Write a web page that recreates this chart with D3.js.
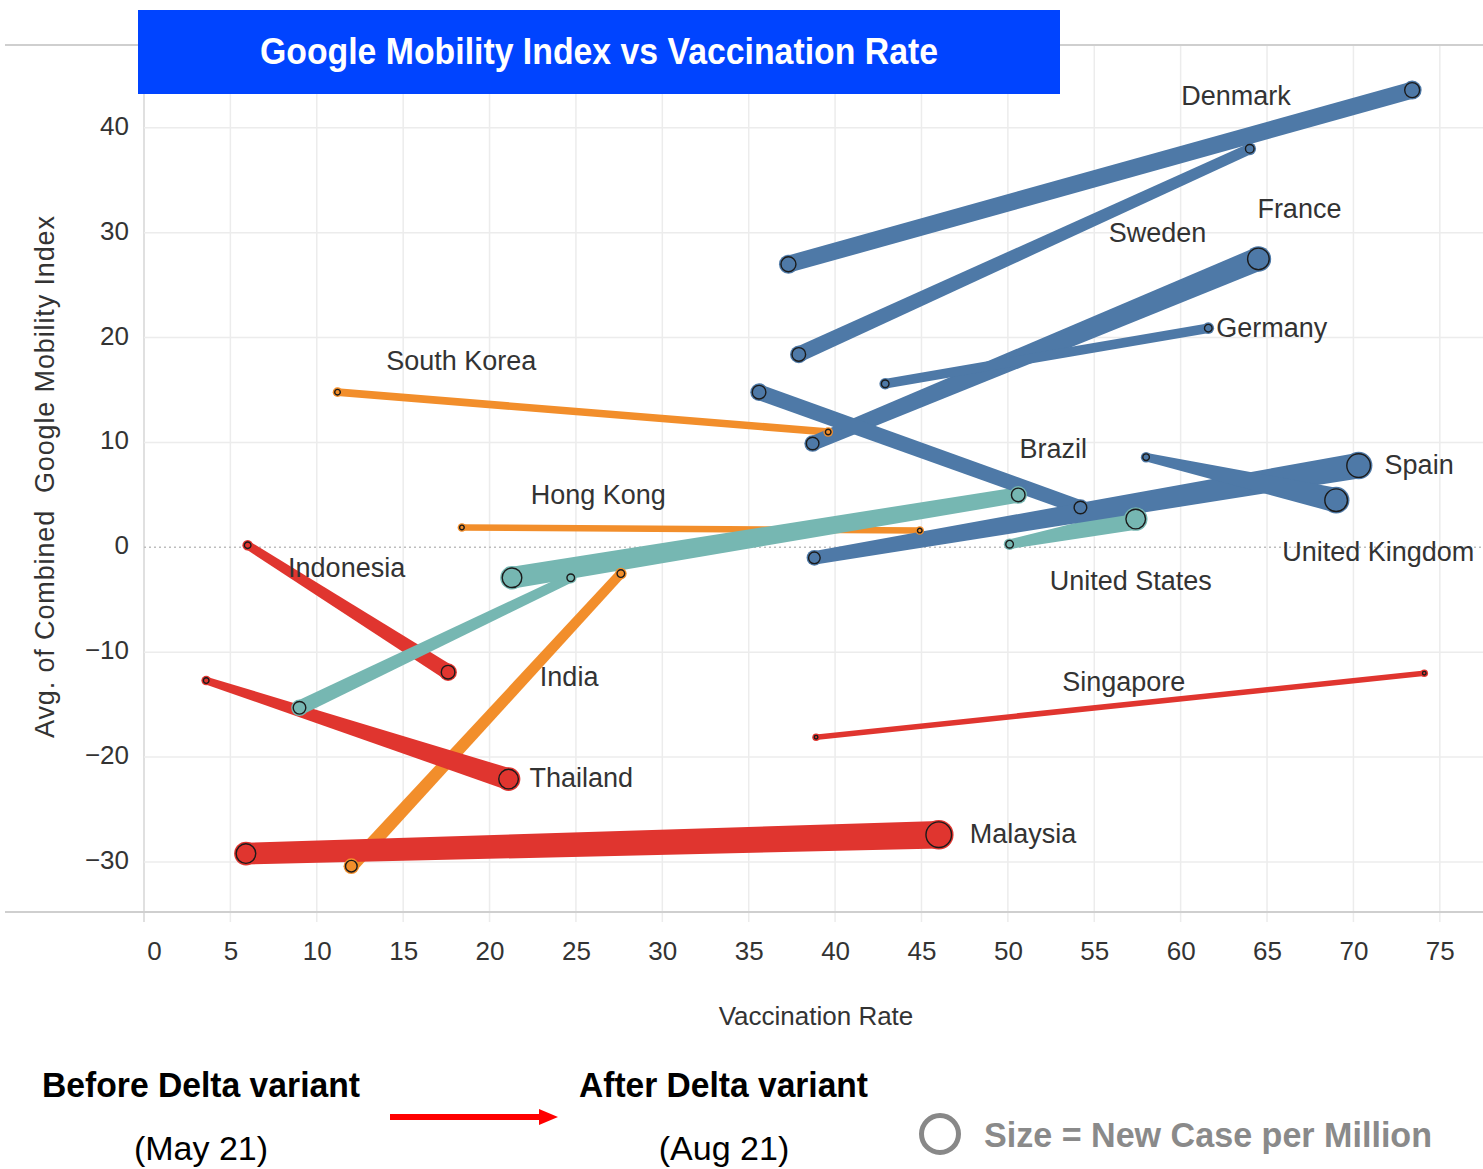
<!DOCTYPE html>
<html>

<head>
    <meta charset="utf-8">
    <title>Google Mobility Index vs Vaccination Rate</title>
    <style>
        body { margin: 0; background: #fff; }
        svg { display: block; font-family: "Liberation Sans", Arial, sans-serif; }
    </style>
</head>

<body>
    <svg class="chart"></svg>
    <script src="https://cdn.jsdelivr.net/npm/d3@7"></script>
    <script>
    // one entry per country: May 21 (before Delta) -> Aug 21 (after Delta)
    var countries = ["South Korea", "Hong Kong", "India", "Malaysia", "Thailand", "Indonesia", "Singapore",
        "unlabelled 1", "unlabelled 2", "United States", "Denmark", "Sweden", "France", "Germany", "Brazil",
        "Spain", "United Kingdom"];
    var groups = ["orange", "orange", "orange", "red", "red", "red", "red",
        "teal", "teal", "teal", "blue", "blue", "blue", "blue", "blue", "blue", "blue"];
    var showLabel = [true, true, true, true, true, true, true,
        false, false, true, true, true, true, true, true, true, true];
    var vaxMay = [11.2, 18.4, 12.0, 5.9, 3.6, 6.0, 38.9, 9.0, 21.3, 50.1, 37.3, 37.9, 38.7, 42.9, 35.6, 38.8, 58.0];
    var vaxAug = [39.6, 44.9, 27.6, 46.0, 21.1, 17.6, 74.1, 24.7, 50.6, 57.4, 73.4, 64.0, 64.5, 61.6, 54.2, 70.3, 69.0];
    var mobMay = [14.8, 1.9, -30.4, -29.2, -12.7, 0.2, -18.1, -15.3, -2.9, 0.3, 27.0, 18.4, 9.9, 15.6, 14.8, -1.0, 8.6];
    var mobAug = [11.0, 1.6, -2.5, -27.4, -22.1, -11.9, -12.0, -2.9, 5.0, 2.7, 43.6, 38.0, 27.5, 20.9, 3.8, 7.8, 4.5];
    var casesMay = [32, 22, 128, 355, 32, 43, 14, 150, 355, 57, 210, 174, 150, 57, 174, 128, 43];
    var casesAug = [32, 22, 57, 600, 355, 174, 14, 57, 174, 355, 210, 72, 430, 57, 150, 511, 470];
    var xTicks = [0, 5, 10, 15, 20, 25, 30, 35, 40, 45, 50, 55, 60, 65, 70, 75];
    var yTicks = [-30, -20, -10, 0, 10, 20, 30, 40];

    // label placement, pixels from the Aug 21 point
    var labelOffset = {
        "Denmark": [-231, 15], "Sweden": [-141, 93], "France": [-1, -41], "Germany": [8, 9],
        "South Korea": [-442, -62], "Brazil": [-61, -49], "Hong Kong": [-389, -27], "Spain": [26, 8],
        "United Kingdom": [-54, 61], "Indonesia": [-160, -95], "United States": [-86, 71],
        "India": [-81, 112], "Singapore": [-362, 18], "Thailand": [21, 8], "Malaysia": [31, 8]
    };

    var W = 1483, H = 1169;
    var svg = d3.select('.chart').attr('width', W).attr('height', H);

    var x = d3.scaleLinear().domain([0, 77.5]).range([144, 1483]);
    var y = d3.scaleLinear().domain([-34.77, 47.9]).range([912, 45]);
    var r = d3.scaleSqrt().domain([0, 600]).range([0, 13]);
    var color = d3.scaleOrdinal()
        .domain(["blue", "orange", "red", "teal"])
        .range(["#4e79a7", "#f28e2b", "#e0352f", "#76b7b2"]);

    var data = countries.map(function(c, i) {
        return {
            name: c, group: groups[i], label: showLabel[i],
            x0: vaxMay[i], y0: mobMay[i], c0: casesMay[i],
            x1: vaxAug[i], y1: mobAug[i], c1: casesAug[i]
        };
    });

    // grid
    var grid = svg.append('g');
    grid.selectAll('.vg').data(xTicks).enter().append('line')
        .attr('x1', function(d) { return x(d); }).attr('x2', function(d) { return x(d); })
        .attr('y1', 45).attr('y2', 922)
        .attr('stroke', function(d) { return d === 0 ? '#d6d6d6' : '#ececec'; })
        .attr('stroke-width', 1.5);
    grid.selectAll('.hg').data(yTicks.filter(function(d) { return d !== 0; })).enter().append('line')
        .attr('x1', x(0)).attr('x2', W)
        .attr('y1', function(d) { return y(d); }).attr('y2', function(d) { return y(d); })
        .attr('stroke', '#ececec').attr('stroke-width', 1.5);
    grid.append('line')
        .attr('x1', x(0)).attr('x2', W).attr('y1', y(0)).attr('y2', y(0))
        .attr('stroke', '#bdbdbd').attr('stroke-width', 1.5).attr('stroke-dasharray', '2,3');
    grid.append('line').attr('x1', 5).attr('x2', W).attr('y1', 45).attr('y2', 45)
        .attr('stroke', '#cfcfcf').attr('stroke-width', 2);
    grid.append('line').attr('x1', 5).attr('x2', W).attr('y1', 912).attr('y2', 912)
        .attr('stroke', '#cfcfcf').attr('stroke-width', 2);

    // axes
    var xAxis = svg.append('g').attr('transform', 'translate(0,' + 935 + ')')
        .call(d3.axisBottom(x).tickValues(xTicks).tickSize(0).tickPadding(0));
    xAxis.select('.domain').remove();
    xAxis.selectAll('text')
        .attr('font-size', 26).attr('fill', '#333').attr('font-family', '"Liberation Sans", Arial, sans-serif')
        .attr('dy', '0.95em')
        .attr('dx', function(d) { return d === 0 ? 10 : 0; });

    var yAxis = svg.append('g').attr('transform', 'translate(129,0)')
        .call(d3.axisLeft(y).tickValues(yTicks).tickSize(0).tickPadding(0));
    yAxis.select('.domain').remove();
    yAxis.selectAll('text')
        .attr('font-size', 26).attr('fill', '#333').attr('font-family', '"Liberation Sans", Arial, sans-serif')
        .attr('dy', '0.25em');

    svg.append('text')
        .attr('x', 816).attr('y', 1025)
        .attr('text-anchor', 'middle').attr('font-size', 26).attr('fill', '#333')
        .text('Vaccination Rate');
    svg.append('text')
        .attr('transform', 'translate(54,477) rotate(-90)')
        .attr('text-anchor', 'middle').attr('font-size', 27).attr('fill', '#333')
        .style('white-space', 'pre')
        .attr('textLength', 522).attr('lengthAdjust', 'spacing')
        .text('Avg. of Combined  Google Mobility Index');

    // tapered lines from May to Aug
    function taper(d) {
        var ax = x(d.x0), ay = y(d.y0), bx = x(d.x1), by = y(d.y1);
        var ra = r(d.c0) + 0.8, rb = r(d.c1) + 0.8;
        var dx = bx - ax, dy = by - ay, len = Math.sqrt(dx * dx + dy * dy);
        var nx = -dy / len, ny = dx / len;
        return [
            [ax + nx * ra, ay + ny * ra], [bx + nx * rb, by + ny * rb],
            [bx - nx * rb, by - ny * rb], [ax - nx * ra, ay - ny * ra]
        ].join(' ');
    }

    var order = ["orange", "red", "teal", "blue"];
    var sorted = data.slice().sort(function(a, b) {
        return order.indexOf(a.group) - order.indexOf(b.group);
    });

    svg.append('g').selectAll('polygon').data(sorted).enter().append('polygon')
        .attr('points', taper)
        .attr('fill', function(d) { return color(d.group); });

    var ends = [];
    sorted.forEach(function(d) {
        ends.push({ cx: d.x0, cy: d.y0, c: d.c0, group: d.group });
        ends.push({ cx: d.x1, cy: d.y1, c: d.c1, group: d.group });
    });
    var dots = svg.append('g').selectAll('g').data(ends).enter().append('g')
        .attr('transform', function(d) { return 'translate(' + x(d.cx) + ',' + y(d.cy) + ')'; });
    dots.append('circle')
        .attr('r', function(d) { return r(d.c) + 1.8; })
        .attr('fill', function(d) { return color(d.group); });
    dots.append('circle')
        .attr('r', function(d) { return Math.max(r(d.c) - 0.2, 1.5); })
        .attr('fill', 'none').attr('stroke', '#1b1b1b').attr('stroke-width', 1.4);

    svg.append('g').selectAll('text').data(data.filter(function(d) { return d.label; })).enter().append('text')
        .attr('x', function(d) { return x(d.x1) + labelOffset[d.name][0]; })
        .attr('y', function(d) { return y(d.y1) + labelOffset[d.name][1]; })
        .attr('font-size', 27).attr('fill', '#333')
        .text(function(d) { return d.name; });

    // title box
    svg.append('rect').attr('x', 138).attr('y', 10).attr('width', 922).attr('height', 84).attr('fill', '#0044ff');
    svg.append('text')
        .attr('x', 599).attr('y', 64).attr('text-anchor', 'middle')
        .attr('font-size', 36).attr('font-weight', 'bold').attr('fill', '#fff')
        .attr('textLength', 678).attr('lengthAdjust', 'spacingAndGlyphs')
        .text('Google Mobility Index vs Vaccination Rate');

    // bottom legend
    var legend = svg.append('g').attr('font-size', 35);
    legend.append('text').attr('x', 42).attr('y', 1097).attr('font-weight', 'bold').attr('fill', '#000')
        .attr('textLength', 318).attr('lengthAdjust', 'spacingAndGlyphs').text('Before Delta variant');
    legend.append('text').attr('x', 201).attr('y', 1160).attr('text-anchor', 'middle').attr('fill', '#000')
        .attr('font-size', 34).text('(May 21)');
    legend.append('text').attr('x', 579).attr('y', 1097).attr('font-weight', 'bold').attr('fill', '#000')
        .attr('textLength', 289).attr('lengthAdjust', 'spacingAndGlyphs').text('After Delta variant');
    legend.append('text').attr('x', 724).attr('y', 1160).attr('text-anchor', 'middle').attr('fill', '#000')
        .attr('font-size', 34).text('(Aug 21)');
    legend.append('rect').attr('x', 390).attr('y', 1114).attr('width', 152).attr('height', 6).attr('fill', '#ff0000');
    legend.append('path').attr('d', 'M539,1109 L558,1117 L539,1125 Z').attr('fill', '#ff0000');
    legend.append('circle').attr('cx', 940).attr('cy', 1134).attr('r', 18.5)
        .attr('fill', 'none').attr('stroke', '#888').attr('stroke-width', 5);
    legend.append('text').attr('x', 984).attr('y', 1147).attr('font-weight', 'bold').attr('fill', '#8a8a8a')
        .attr('textLength', 448).attr('lengthAdjust', 'spacingAndGlyphs').text('Size = New Case per Million');
    </script>
</body>

</html>
